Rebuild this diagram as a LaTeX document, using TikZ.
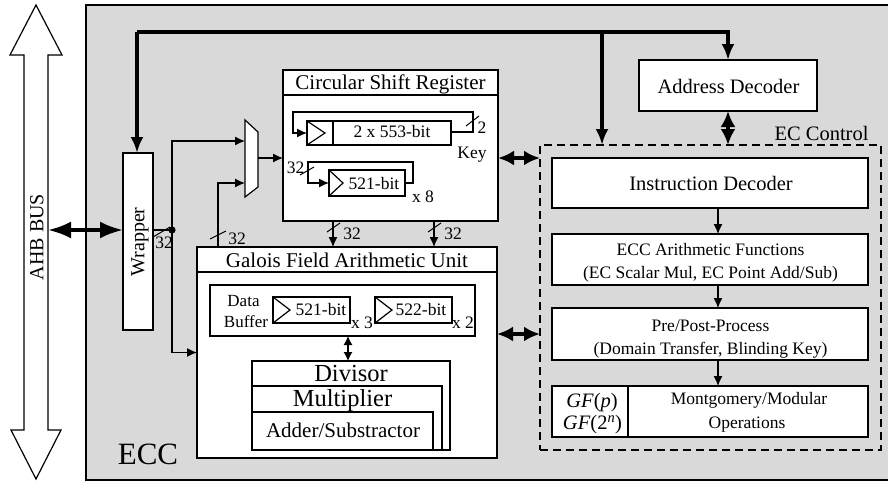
\documentclass[tikz,border=0pt]{standalone}
\usepackage{fontspec}
\setmainfont{Liberation Serif}
\usetikzlibrary{arrows.meta}
\definecolor{eccgray}{RGB}{217,217,217}
\tikzset{
  fs/.style={font=\fontsize{#1}{#1}\selectfont, text height=\dimexpr #1pt*68/100\relax, text depth=0pt},
  blk/.style={draw, fill=white, line width=1.2pt, inner sep=0pt, outer sep=0pt},
  lbl/.style={inner sep=0pt, outer sep=0pt, anchor=center},
  wire/.style={line width=1.2pt},
  arr/.style={wire, -{Latex[length=10pt,width=9pt]}},
  darr/.style={wire, {Latex[length=9pt,width=9pt]}-{Latex[length=9pt,width=9pt]}},
  bus/.style={line width=3.5pt, line join=miter, -{Latex[length=16pt,width=13pt]}},
  dbus/.style={line width=3.5pt, {Latex[length=16pt,width=15pt]}-{Latex[length=16pt,width=15pt]}},
  dbusL/.style={line width=3.5pt, {Latex[length=23pt,width=17pt]}-{Latex[length=23pt,width=17pt]}},
  tick/.style={line width=1pt},
  regtri/.style={line width=1.2pt},
}
\begin{document}
\begin{tikzpicture}[x=1pt,y=-1pt]
\useasboundingbox (0,0) rectangle (888,483);

% ECC core region
\fill[eccgray] (86,5) rectangle (895,480);
\draw[line width=1.2pt] (895,5) -- (86,5) -- (86,480) -- (895,480);

% AHB bus (hollow double arrow)
\draw[line width=1.2pt, fill=white]
  (36,5) -- (62,55) -- (48,55) -- (48,430) -- (61,430) -- (36,479)
  -- (11,430) -- (24,430) -- (24,55) -- (10,55) -- cycle;
\coordinate (ahb) at (48,230);
\node[lbl, fs=20, rotate=90] (ahbtxt) at (36.5,237) {AHB BUS};

% Blocks
\node[blk, minimum width=30pt, minimum height=177pt] (wrap) at (138,241.5) {};
\node[lbl, fs=20, rotate=90] (wraptxt) at (137.5,242) {Wrapper};

\node[blk, minimum width=215pt, minimum height=151pt] (csr) at (390.5,145.5) {};
\draw[wire] (csr.west |- 0,95) -- (csr.east |- 0,95);
\node[lbl, fs=21] (csrtxt) at (390.5,82) {Circular Shift Register};

\node[blk, minimum width=300pt, minimum height=211pt] (gf) at (347,352.5) {};
\draw[wire] (gf.west |- 0,272) -- (gf.east |- 0,272);
\node[lbl, fs=21] (gftxt) at (347,260) {Galois Field Arithmetic Unit};

\node[blk, minimum width=178pt, minimum height=51pt] (addr) at (728,85.5) {};
\node[lbl, fs=20.5] (addrtxt) at (728.5,86.5) {Address Decoder};

\node[draw, line width=1.2pt, dash pattern=on 8pt off 5pt, minimum width=341pt,
      minimum height=305pt, inner sep=0pt, outer sep=0pt] (ecc) at (710.5,297.5) {};
\node[lbl, fs=20.5] (ecctxt) at (821.5,133.5) {EC Control};

\node[blk, minimum width=316pt, minimum height=50pt] (instr) at (710,183) {};
\node[lbl, fs=20.5] (instrtxt) at (711,184) {Instruction Decoder};

\node[blk, minimum width=316pt, minimum height=51pt] (eccf) at (710,259.5) {};
\node[lbl, fs=17.5] (eccfa) at (710.5,250) {ECC Arithmetic Functions};
\node[lbl, fs=17.5] (eccfb) at (710.5,272.5) {(EC Scalar Mul, EC Point Add/Sub)};

\node[blk, minimum width=316pt, minimum height=52pt] (pre) at (710,334) {};
\node[lbl, fs=17.5] (prea) at (710.5,326) {Pre/Post-Process};
\node[lbl, fs=17.5] (preb) at (710.5,349) {(Domain Transfer, Blinding Key)};

\node[blk, minimum width=316pt, minimum height=51pt] (mont) at (710,411.5) {};
\draw[wire] (628,0 |- mont.north) -- (628,0 |- mont.south);
\node[lbl, fs=20.5] (gfp) at (592,401) {\textit{GF}(\textit{p})};
\node[lbl, fs=20.5] (gf2n) at (592.5,423) {\textit{GF}(2\textsuperscript{\itshape n})};
\node[lbl, fs=17.5] (monta) at (749,399) {Montgomery/Modular};
\node[lbl, fs=17.5] (montb) at (747,422.5) {Operations};

% Registers inside the circular shift register
\node[blk, minimum width=144pt, minimum height=24pt] (r553) at (379,133) {};
\draw[regtri] (r553.north west) -- (325,133) -- (r553.south west);
\draw[wire] (333,0 |- r553.north) -- (333,0 |- r553.south);
\node[lbl, fs=17.5] (r553txt) at (392,132) {2 x 553-bit};

\node[blk, minimum width=76pt, minimum height=26pt] (r521) at (367,183) {};
\draw[regtri] (r521.north west) -- (343,183) -- (r521.south west);
\node[lbl, fs=17.5] (r521txt) at (374,184) {521-bit};

% Feedback loops
\draw[arr] (r553.east |- 0,132) -- (473,132) -- (473,112) -- (293,112) -- (293,133) -- (r553.west);
\draw[tick] (466,126) -- (479,116);
\node[lbl, fs=17.5] (k2) at (482,127.5) {2};
\node[lbl, fs=17.5] (key) at (472,152.5) {Key};

\draw[arr] (r521.east) -- (413,183) -- (413,162) -- (308,162) -- (308,183) -- (r521.west);
\draw[tick] (300,175) -- (314,167);
\node[lbl, fs=17.5] (l32) at (295.5,167.5) {32};
\node[lbl, fs=17.5] (x8) at (423,197) {x 8};

% Data buffer
\node[blk, minimum width=265pt, minimum height=51pt] (dbuf) at (342.5,310.5) {};
\node[lbl, fs=17] (dtxt) at (243.5,301) {Data};
\node[lbl, fs=17] (btxt) at (246,322) {Buffer};
\node[blk, minimum width=77pt, minimum height=26pt] (b521) at (311.5,310) {};
\draw[regtri] (b521.north west) -- (290,310) -- (b521.south west);
\node[lbl, fs=17.5] (b521txt) at (321,310) {521-bit};
\node[lbl, fs=17.5] (x3) at (362,322.5) {x 3};
\node[blk, minimum width=77pt, minimum height=26pt] (b522) at (413.5,310) {};
\draw[regtri] (b522.north west) -- (392,310) -- (b522.south west);
\node[lbl, fs=17.5] (b522txt) at (421,310) {522-bit};
\node[lbl, fs=17.5] (x2) at (463,322.5) {x 2};

% Arithmetic units
\node[blk, minimum width=198pt, minimum height=89pt] (div) at (351,405.5) {};
\node[blk, minimum width=190pt, minimum height=64pt] (mul) at (347,418) {};
\node[blk, minimum width=181pt, minimum height=38pt] (add) at (342.5,431) {};
\node[lbl, fs=24.5] (divtxt) at (351,373.5) {Divisor};
\node[lbl, fs=24.5] (multxt) at (342.5,398.5) {Multiplier};
\node[lbl, fs=21] (addtxt) at (343,430.5) {Adder/Substractor};
\draw[darr] (dbuf.south -| 348,0) -- (div.north -| 348,0);

% Multiplexer
\draw[line width=1.2pt, fill=white] (245,120) -- (258,132) -- (258,187) -- (245,197) -- cycle;
\coordinate (mi1) at (245,141);
\coordinate (mi2) at (245,183);
\coordinate (mo) at (258,158);
\draw[arr] (mo) -- (csr.west |- mo);

% Wrapper data path
\coordinate (dot) at (172,230);
\draw[dbusL] (ahb) -- (wrap.west |- ahb);
\draw[wire] (wrap.east |- dot) -- (dot);
\fill (dot) circle (3.6);
\draw[tick] (153,237) -- (170,227);
\node[lbl, fs=17.5] (w32) at (164,242.5) {32};
\draw[arr] (dot) |- (mi1);
\draw[arr] (dot) |- (gf.west);
\draw[arr] (gf.north -| 218,0) |- (mi2);
\draw[tick] (210,239) -- (226,231);
\node[lbl, fs=17.5] (g32) at (237,238.5) {32};

% Shift register to arithmetic unit
\draw[arr] (csr.south -| 333,0) -- (gf.north -| 333,0);
\draw[tick] (327,232) -- (340,223);
\node[lbl, fs=17.5] (c32a) at (352,234) {32};
\draw[arr] (csr.south -| 434,0) -- (gf.north -| 434,0);
\draw[tick] (428,232) -- (441,223);
\node[lbl, fs=17.5] (c32b) at (453,234) {32};

% Links to the EC control
\draw[dbus] (csr.east |- mo) -- (ecc.west |- mo);
\draw[dbus] (gf.east |- pre.center) -- (ecc.west |- pre.center);
\draw[dbus] (addr.south) -- (addr.south |- ecc.north);

% Control flow inside EC control
\draw[arr] (instr.south -| 718,0) -- (eccf.north -| 718,0);
\draw[arr] (eccf.south -| 718,0) -- (pre.north -| 718,0);
\draw[arr] (pre.south -| 718,0) -- (mont.north -| 718,0);

% Top system bus
\coordinate (tl) at (137,32);
\coordinate (tb) at (602,32);
\draw[bus] (tl) -- (tl |- wrap.north);
\draw[bus] (tl) -| (addr.north);
\draw[bus] (tb) -- (tb |- ecc.north);

\node[lbl, fs=31] (ecclbl) at (148,454) {ECC};
\end{tikzpicture}
\end{document}
